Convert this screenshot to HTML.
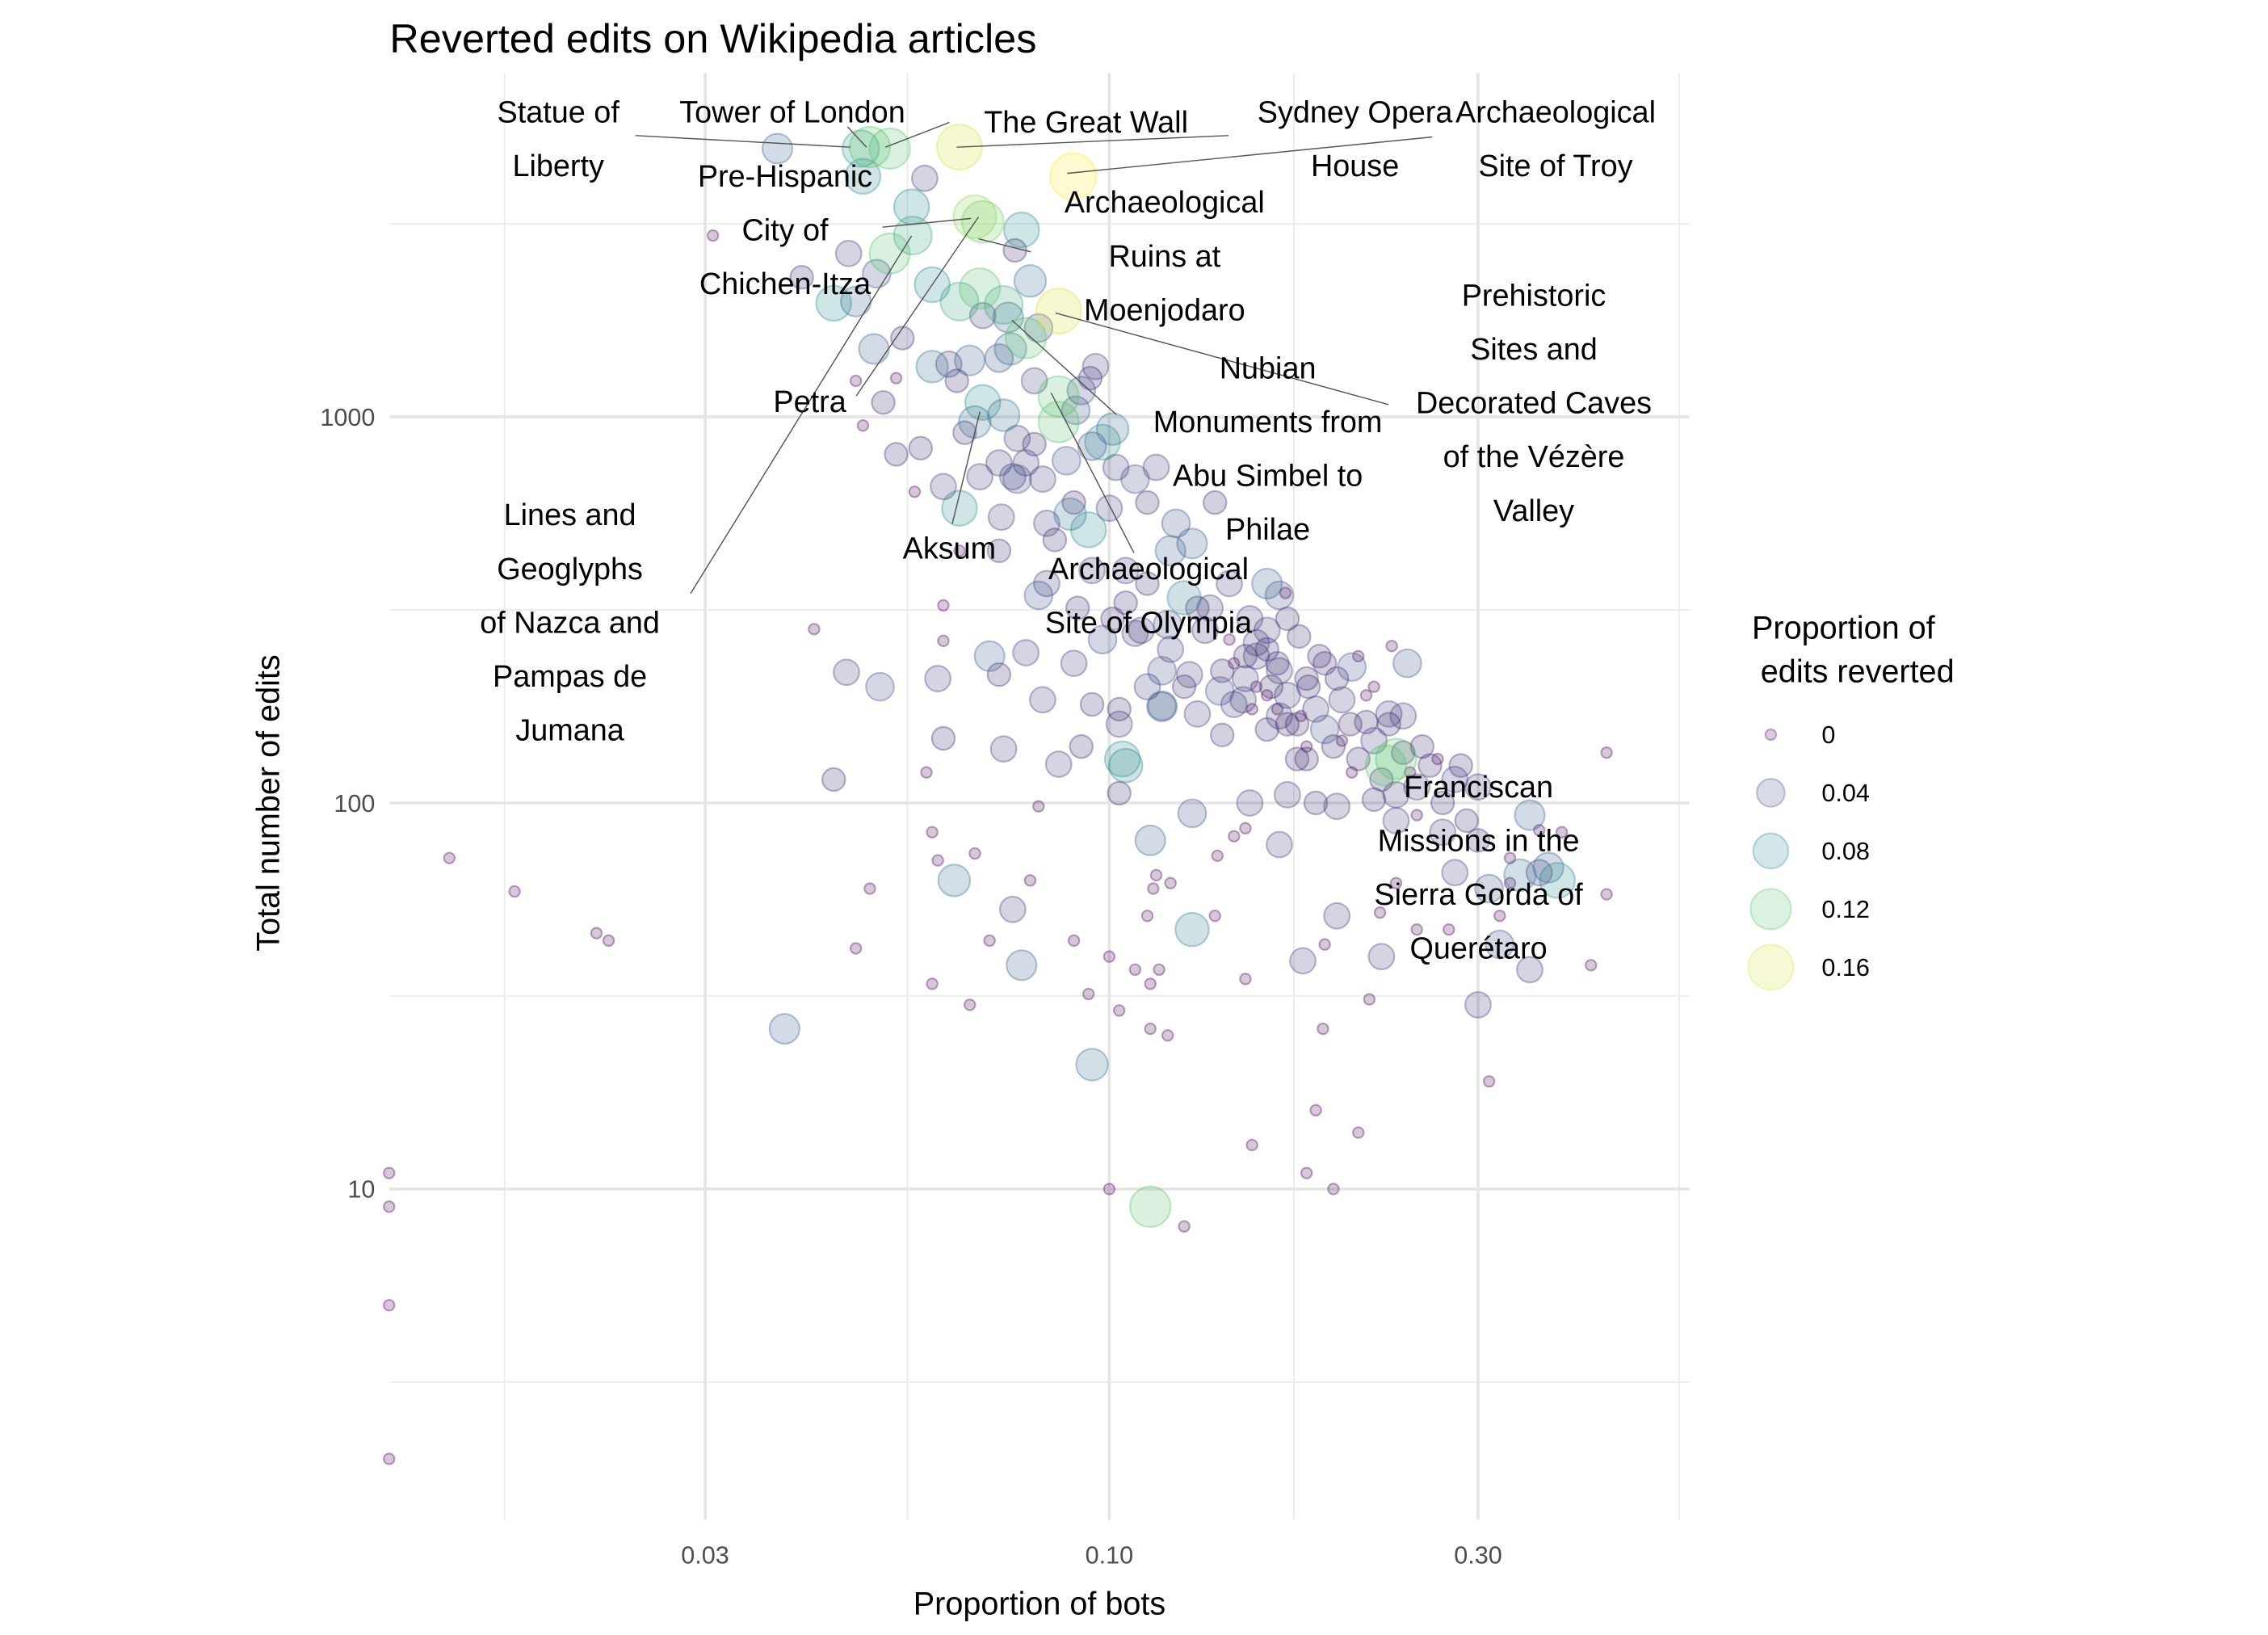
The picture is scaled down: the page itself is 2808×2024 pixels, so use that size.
<!DOCTYPE html>
<html><head><meta charset="utf-8"><style>
html,body{margin:0;padding:0;background:#fff;}
svg{display:block;font-family:"Liberation Sans",Arial,sans-serif;}
</style></head><body>
<svg id="chart" width="2808" height="2024" viewBox="0 0 1560 1124" xmlns="http://www.w3.org/2000/svg">
<rect width="1560" height="1124" fill="#fff"/>
<g id="grid"></g>
<g id="points"></g>
<g id="labels"></g>
<g id="axes"></g>
<text x="268" y="36" font-size="28" fill="#000">Reverted edits on Wikipedia articles</text>
<text x="715" y="1110" font-size="22" text-anchor="middle" fill="#000">Proportion of bots</text>
<text transform="translate(192,552) rotate(-90)" font-size="22" text-anchor="middle" fill="#000">Total number of edits</text>
<g id="legend">
<text x="1205" y="439" font-size="22" fill="#000">Proportion of</text>
<text x="1211" y="469" font-size="22" fill="#000">edits reverted</text>
</g>
</svg>
<script>
const NS="http://www.w3.org/2000/svg";
// data arrays
const xTicks=[0.03,0.10,0.30];
const xTickLabels=["0.03","0.10","0.30"];
const xMinor=[0.0165,0.0548,0.1733,0.546];
const yTicks=[10,100,1000];
const yTickLabels=["10","100","1000"];
const yMinor=[3.162,31.62,316.2,3162];
const legendValues=[0,0.04,0.08,0.12,0.16];
const legendLabels=["0","0.04","0.08","0.12","0.16"];
const bots=[0.0372,0.0477,0.049,0.052,0.064,0.0898,0.0577,0.048,0.0555,0.0307,0.0557,0.052,0.0686,0.067,0.077,0.0755,0.040,0.046,0.044,0.047,0.050,0.059,0.064,0.068,0.073,0.079,0.086,0.0686,0.074,0.0496,0.054,0.059,0.062,0.066,0.072,0.078,0.0745,0.081,0.047,0.053,0.051,0.0635,0.080,0.0945,0.096,0.086,0.092,0.0686,0.073,0.067,0.086,0.0905,0.101,0.098,0.076,0.048,0.053,0.057,0.065,0.072,0.078,0.082,0.088,0.095,0.102,0.108,0.115,0.056,0.061,0.068,0.076,0.064,0.0725,0.083,0.089,0.094,0.1,0.122,0.128,0.137,0.112,0.12,0.105,0.112,0.125,0.143,0.16,0.166,0.064,0.072,0.083,0.081,0.091,0.101,0.098,0.108,0.119,0.133,0.143,0.152,0.169,0.176,0.16,0.166,0.187,0.197,0.206,0.22,0.243,0.232,0.21,0.181,0.162,0.149,0.139,0.127,0.117,0.112,0.103,0.095,0.103,0.117,0.130,0.153,0.160,0.166,0.177,0.19,0.2,0.215,0.23,0.24,0.254,0.266,0.285,0.3,0.228,0.235,0.206,0.185,0.17,0.197,0.22,0.235,0.25,0.27,0.30,0.33,0.35,0.36,0.37,0.34,0.38,0.31,0.28,0.32,0.32,0.35,0.3,0.225,0.197,0.178,0.166,0.152,0.15,0.128,0.113,0.128,0.12,0.105,0.104,0.103,0.117,0.086,0.092,0.082,0.090,0.078,0.070,0.072,0.060,0.061,0.061,0.0457,0.0505,0.044,0.061,0.073,0.063,0.059,0.075,0.077,0.095,0.038,0.0415,0.113,0.014,0.017,0.0217,0.0225,0.0117,0.0117,0.0117,0.0117,0.047,0.049,0.058,0.059,0.06,0.066,0.067,0.07,0.079,0.081,0.09,0.094,0.1,0.103,0.108,0.113,0.113,0.119,0.115,0.114,0.112,0.116,0.137,0.138,0.145,0.15,0.153,0.125,0.1,0.18,0.195,0.185,0.189,0.21,0.217,0.224,0.25,0.31,0.33,0.42,0.44,0.44,0.19,0.235,0.275,0.36,0.385,0.14,0.15,0.16,0.17,0.18,0.155,0.165,0.175,0.145,0.135];
const edits=[4955,4955,5000,4955,5000,4200,4150,4200,3500,2950,2950,2650,3200,3300,3050,2700,2300,2650,1970,1990,2350,2200,1990,2150,1950,2250,1880,1830,1810,1500,1600,1350,1370,1400,1420,1600,1500,1700,1240,1260,1090,1240,1240,1260,1350,1130,1170,1090,1010,970,970,1040,930,860,880,950,800,830,910,760,760,690,770,840,740,690,740,640,660,700,690,580,550,530,560,510,580,530,470,600,600,450,400,370,340,370,370,345,450,450,370,345,320,300,265,275,290,280,265,300,350,270,250,220,240,210,225,200,230,255,240,200,200,185,195,215,220,200,175,180,160,178,170,175,155,168,168,155,145,162,170,168,140,130,125,110,125,130,120,100,105,98,102,90,93,84,80,72,93,66,68,65,63,60,66,51,43,37,30,40,51,39,78,100,86,94,80,47,62,125,130,106,178,126,140,185,230,245,240,215,210,263,325,218,200,115,147,138,63,84,53,38,21,26,282,9,72,59,46,44,11,9,5,2,42,60,120,34,71,30,74,44,63,98,44,32,40,29,37,34,26,25,65,60,51,37,51,73,82,35,13,8,10,11,10,16,26,14,31,52,47,19,62,38,58,135,43,62,47,85,84,150,210,190,160,140,240,175,130,230,320];
const reverted=[0.05,0.09,0.12,0.12,0.16,0.17,0.03,0.08,0.08,0.0,0.1,0.12,0.13,0.14,0.08,0.02,0.02,0.03,0.08,0.05,0.04,0.08,0.1,0.12,0.1,0.06,0.16,0.03,0.05,0.05,0.02,0.06,0.03,0.05,0.04,0.12,0.06,0.04,0.0,0.0,0.02,0.02,0.03,0.02,0.03,0.12,0.04,0.08,0.06,0.06,0.12,0.04,0.06,0.08,0.03,0.0,0.02,0.02,0.02,0.03,0.03,0.03,0.04,0.04,0.03,0.04,0.03,0.0,0.03,0.03,0.04,0.08,0.03,0.03,0.06,0.08,0.03,0.04,0.05,0.02,0.02,0.05,0.03,0.02,0.07,0.03,0.05,0.04,0.0,0.02,0.03,0.04,0.02,0.02,0.04,0.03,0.04,0.03,0.0,0.03,0.0,0.02,0.02,0.03,0.02,0.02,0.04,0.0,0.04,0.0,0.0,0.02,0.02,0.03,0.04,0.03,0.04,0.03,0.02,0.02,0.03,0.04,0.03,0.0,0.02,0.03,0.0,0.04,0.0,0.02,0.03,0.03,0.02,0.0,0.02,0.03,0.12,0.12,0.0,0.02,0.03,0.03,0.02,0.03,0.0,0.03,0.02,0.0,0.05,0.03,0.05,0.06,0.08,0.04,0.03,0.0,0.04,0.03,0.03,0.03,0.03,0.03,0.03,0.03,0.0,0.04,0.05,0.07,0.0,0.07,0.08,0.02,0.05,0.03,0.02,0.03,0.03,0.03,0.05,0.02,0.03,0.0,0.0,0.03,0.04,0.02,0.02,0.03,0.06,0.0,0.03,0.05,0.06,0.05,0.0,0.12,0,0,0,0,0,0,0,0,0,0,0,0,0,0,0,0,0,0,0,0,0,0,0,0,0,0,0,0,0,0,0,0,0,0,0,0,0,0,0,0,0,0,0,0,0,0,0,0,0,0,0,0,0,0,0,0.02,0.03,0.0,0.02,0.0,0.03,0.0,0.02,0.0,0.03];
const botsExtra=[0.14,0.145,0.15,0.155,0.16,0.165,0.17,0.175,0.18,0.185,0.19,0.195,0.2,0.205,0.21,0.215,0.22,0.225,0.23,0.235,0.24,0.245,0.25,0.26,0.27,0.28,0.29,0.155,0.17,0.12,0.125,0.13,0.11,0.105,0.095,0.085,0.09,0.075,0.08,0.18];
const editsExtra=[220,180,240,200,280,230,190,160,210,175,230,140,185,160,130,190,145,115,160,105,135,120,110,125,100,115,90,260,300,250,200,320,280,330,400,480,600,700,850,130];
const revertedExtra=[0.02,0.03,0.02,0.0,0.03,0.02,0.03,0.02,0.02,0.03,0.02,0.02,0.03,0.02,0.02,0.0,0.03,0.02,0.02,0.03,0.02,0.0,0.03,0.02,0.02,0.03,0.02,0.03,0.02,0.03,0.02,0.02,0.03,0.02,0.03,0.02,0.02,0.03,0.02,0.02];

const allBots=bots.concat(botsExtra);
const allEdits=edits.concat(editsExtra);
const allRev=reverted.concat(revertedExtra);

// scales
const X0=268,X1=1162,Y0=50,Y1=1045;
function xs(v){return 763+531.6*Math.log10(v/0.1);}
function ys(v){return 552-265.5*Math.log10(v/100);}
function rs(v){return 3.7+11.8*Math.sqrt(Math.max(0,v)/0.16);}
const vir=[[68,1,84],[59,82,139],[33,144,141],[93,201,99],[253,231,37]];
function col(v){let t=Math.min(1,Math.max(0,v/0.17))*(vir.length-1);let i=Math.min(vir.length-2,Math.floor(t));let f=t-i;
 const c=vir[i].map((a,k)=>Math.round(a+(vir[i+1][k]-a)*f));return "rgb("+c.join(",")+")";}
function mk(tag,attrs,parent){const e=document.createElementNS(NS,tag);for(const k in attrs)e.setAttribute(k,attrs[k]);parent.appendChild(e);return e;}

const grid=document.getElementById('grid');
xMinor.forEach(v=>{const l=mk('line',{x1:xs(v),x2:xs(v),y1:Y0,y2:Y1,stroke:'#ebebeb','stroke-width':1},grid);

});
yMinor.forEach(v=>{const l=mk('line',{x1:X0,x2:X1,y1:ys(v),y2:ys(v),stroke:'#ebebeb','stroke-width':1},grid);

});
xTicks.forEach(v=>{const l=mk('line',{x1:xs(v),x2:xs(v),y1:Y0,y2:Y1,stroke:'#e5e5e5','stroke-width':2},grid);

});
yTicks.forEach(v=>{const l=mk('line',{x1:X0,x2:X1,y1:ys(v),y2:ys(v),stroke:'#e5e5e5','stroke-width':2},grid);

});

const axes=document.getElementById('axes');
xTicks.forEach((v,i)=>{const t=mk('text',{x:xs(v),y:1075,'font-size':17,'text-anchor':'middle',fill:'#4d4d4d'},axes);t.textContent=xTickLabels[i];

});
yTicks.forEach((v,i)=>{const t=mk('text',{x:258,y:ys(v)+6,'font-size':17,'text-anchor':'end',fill:'#4d4d4d'},axes);t.textContent=yTickLabels[i];

});

const pts=document.getElementById('points');
const order=allBots.map((b,i)=>i).sort((a,b)=>allRev[a]-allRev[b]);
order.forEach(i=>{const c=col(allRev[i]);
 const p=mk('circle',{cx:xs(Math.max(allBots[i],0.0117)),cy:ys(allEdits[i]),r:rs(allRev[i]),fill:c,'fill-opacity':0.22,stroke:c,'stroke-opacity':0.35,'stroke-width':1.2},pts);
 
 });

const leg=document.getElementById('legend');
legendValues.forEach((v,i)=>{const cy=505+40*i;const c=col(v);
 const p=mk('circle',{cx:1218,cy:cy,r:rs(v),fill:c,'fill-opacity':0.2,stroke:c,'stroke-opacity':0.3,'stroke-width':1.2},leg);
 
 
 const t=mk('text',{x:1253,y:cy+6,'font-size':17,fill:'#000'},leg);t.textContent=legendLabels[i];
 
 });

// annotations
const lab=document.getElementById('labels');
const segs=[[437,93,585,101],[583,87,596,101],[653,84,609,101],[845,93,658,101],[985,94,734,119],[607,156,668,150],[673,164,709,173],[589,272,673,149],[475,408,627,162],[955,278,726,215],[768,285,696,220],[655,360,674,283],[780,380,723,270]];
segs.forEach(s=>{const l=mk('line',{x1:s[0],y1:s[1],x2:s[2],y2:s[3],stroke:'#555','stroke-width':0.8},lab);

});
const texts=[[384,77,["Statue of","Liberty"]],[545,77,["Tower of London"]],[747,84,["The Great Wall"]],[932,77,["Sydney Opera","House"]],[1070,77,["Archaeological","Site of Troy"]],[540,121,["Pre-Hispanic","City of","Chichen-Itza"]],[801,139,["Archaeological","Ruins at","Moenjodaro"]],[1055,203,["Prehistoric","Sites and","Decorated Caves","of the Vézère","Valley"]],[872,253,["Nubian","Monuments from","Abu Simbel to","Philae"]],[557,276,["Petra"]],[392,354,["Lines and","Geoglyphs","of Nazca and","Pampas de","Jumana"]],[653,377,["Aksum"]],[790,391,["Archaeological","Site of Olympia"]],[1017,541,["Franciscan","Missions in the","Sierra Gorda of","Querétaro"]]];
texts.forEach(t=>{t[2].forEach((s,j)=>{const e=mk('text',{x:t[0],y:t[1]+7+37*j,'font-size':21,'text-anchor':'middle',fill:'#000'},lab);e.textContent=s;
 
 });});
</script>
</body></html>
